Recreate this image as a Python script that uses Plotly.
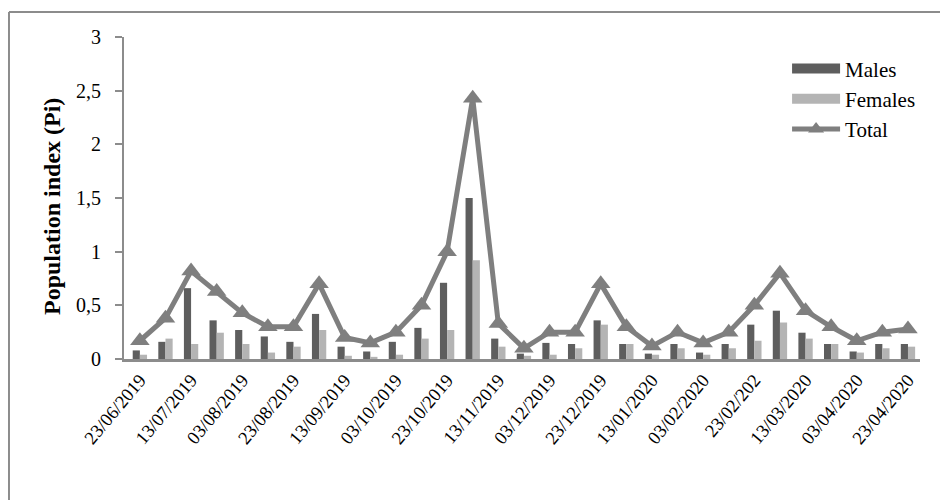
import plotly.graph_objects as go

dates = ["23/06/2019", "03/07/2019", "13/07/2019", "23/07/2019", "03/08/2019", "13/08/2019",
         "23/08/2019", "03/09/2019", "13/09/2019", "23/09/2019", "03/10/2019", "13/10/2019",
         "23/10/2019", "03/11/2019", "13/11/2019", "23/11/2019", "03/12/2019", "13/12/2019",
         "23/12/2019", "03/01/2020", "13/01/2020", "23/01/2020", "03/02/2020", "13/02/2020",
         "23/02/2020", "03/03/2020", "13/03/2020", "23/03/2020", "03/04/2020", "13/04/2020",
         "23/04/2020"]
males = [0.08, 0.16, 0.66, 0.36, 0.27, 0.21, 0.16, 0.42, 0.115, 0.07, 0.16, 0.29,
         0.71, 1.50, 0.19, 0.05, 0.15, 0.14, 0.36, 0.14, 0.05, 0.14, 0.06, 0.14,
         0.32, 0.45, 0.245, 0.14, 0.07, 0.14, 0.14]
females = [0.04, 0.19, 0.14, 0.245, 0.14, 0.06, 0.115, 0.27, 0.03, 0.02, 0.04, 0.19,
           0.27, 0.92, 0.115, 0.03, 0.04, 0.10, 0.32, 0.14, 0.04, 0.10, 0.04, 0.10,
           0.17, 0.34, 0.19, 0.14, 0.06, 0.10, 0.115]
total = [0.17, 0.38, 0.82, 0.63, 0.43, 0.30, 0.30, 0.70, 0.20, 0.15, 0.25, 0.50,
         1.00, 2.43, 0.33, 0.10, 0.25, 0.25, 0.70, 0.30, 0.12, 0.25, 0.15, 0.25,
         0.50, 0.80, 0.45, 0.30, 0.17, 0.25, 0.28]
tick_dates = dates[::2]
tick_labels = ["23/06/2019", "13/07/2019", "03/08/2019", "23/08/2019", "13/09/2019",
               "03/10/2019", "23/10/2019", "13/11/2019", "03/12/2019", "23/12/2019",
               "13/01/2020", "03/02/2020", "23/02/202", "13/03/2020", "03/04/2020",
               "23/04/2020"]

serif = "Liberation Serif, Times New Roman, serif"
male_col = "#5e5e5e"
female_col = "#b4b4b4"
total_col = "#7f7f7f"

fig = go.Figure()
fig.add_trace(go.Bar(x=dates, y=males, name="Males", showlegend=False,
                     marker=dict(color=male_col, line_width=0)))
fig.add_trace(go.Bar(x=dates, y=females, name="Females", showlegend=False,
                     marker=dict(color=female_col, line_width=0)))
fig.add_trace(go.Scatter(x=dates, y=total, name="Total", mode="lines+markers", showlegend=False,
                         line=dict(color=total_col, width=5),
                         marker=dict(symbol="triangle-up", size=17, color=total_col)))
# legend entries (wide swatches like the original)
fig.add_trace(go.Scatter(x=[None], y=[None], name="Males", mode="lines",
                         line=dict(color=male_col, width=12)))
fig.add_trace(go.Scatter(x=[None], y=[None], name="Females", mode="lines",
                         line=dict(color=female_col, width=12)))
fig.add_trace(go.Scatter(x=[None], y=[None], name="Total", mode="lines+markers",
                         line=dict(color=total_col, width=5),
                         marker=dict(symbol="triangle-up", size=14, color=total_col)))

fig.update_layout(
    width=940, height=492,
    margin=dict(l=116, r=28, t=29, b=141),
    paper_bgcolor="white", plot_bgcolor="white",
    barmode="group", bargap=0.44, bargroupgap=0,
    separators=", ",
    font=dict(family=serif, color="black", size=20),
    showlegend=True,
    legend=dict(x=0.833, y=0.965, xanchor="left", yanchor="top",
                font=dict(family=serif, size=21, color="black"),
                bgcolor="rgba(0,0,0,0)", tracegroupgap=0, itemwidth=48),
    xaxis=dict(type="category", range=[-0.62, 30.47], tickmode="array",
               tickvals=tick_dates, ticktext=tick_labels, tickangle=-50,
               showline=True, linecolor="#8c8c8c", linewidth=3, ticks="",
               showgrid=False, tickfont=dict(family=serif, size=18.5, color="black")),
    yaxis=dict(range=[0, 3], dtick=0.5, showline=True, linecolor="#8c8c8c", linewidth=2,
               ticks="outside", ticklen=7, tickcolor="#8c8c8c", tickwidth=2,
               ticklabelstandoff=10,
               showgrid=False, zeroline=False,
               tickfont=dict(family=serif, size=20, color="black")),
    shapes=[
        dict(type="line", xref="paper", yref="paper", x0=-0.1445, x1=1.04, y0=1.0776, y1=1.0776,
             line=dict(color="#8c8c8c", width=2)),
        dict(type="line", xref="paper", yref="paper", x0=-0.1445, x1=-0.1445, y0=1.0776, y1=-0.45,
             line=dict(color="#8c8c8c", width=2)),
    ],
    annotations=[
        dict(text="<b>Population index (Pi)</b>", xref="paper", yref="paper",
             x=(52 - 124) / 796, y=(359 - 207) / 322, textangle=-90, showarrow=False,
             xanchor="center", yanchor="middle",
             font=dict(family=serif, size=24, color="black")),
    ],
)

fig.write_html("out.html")
